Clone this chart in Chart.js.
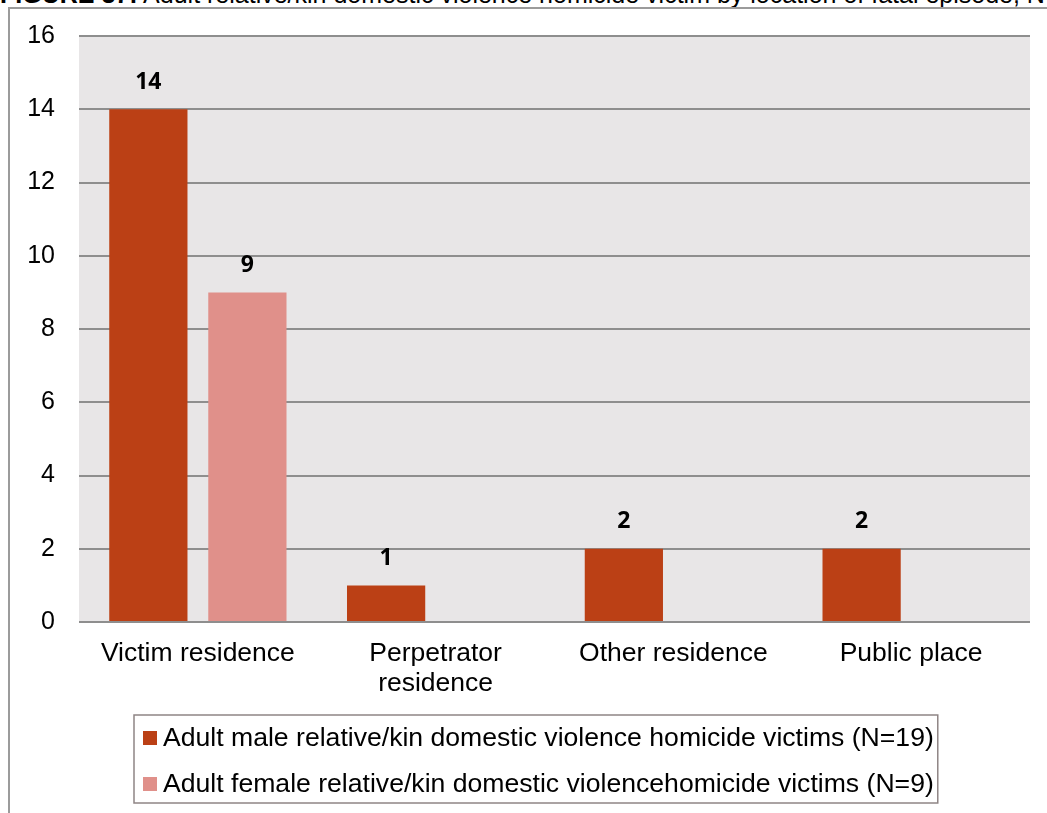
<!DOCTYPE html>
<html>
<head>
<meta charset="utf-8">
<script src="https://cdn.jsdelivr.net/npm/chart.js@4.4.1/dist/chart.umd.min.js"></script>
<style>
  html, body { margin: 0; padding: 0; background: #fff; }
  #wrap { position: relative; width: 1047px; height: 813px; overflow: hidden; }
  #title {
    position: absolute; left: 0px; top: -18px; white-space: nowrap;
    font: 25px "Liberation Sans", Arial, sans-serif; color: #000; line-height: 25px;
  }
  #frame {
    position: absolute; left: 8px; top: 7px; width: 1200px; height: 1000px;
    border-left: 2px solid #9b9b9b; border-top: 2px solid #9b9b9b;
  }
  #locChart { position: absolute; left: 0; top: 0; }
</style>
</head>
<body>
<div id="wrap">
  <div id="title"><b>FIGURE 37:</b> Adult relative/kin domestic violence homicide victim by location of fatal episode, NC</div>
  <div id="frame"></div>
  <canvas id="locChart" width="1047" height="813"></canvas>
</div>
<script>
// chart values
var locations = ["Victim residence", ["Perpetrator", "residence"], "Other residence", "Public place"];
var maleVictims = [14, 1, 2, 2];
var femaleVictims = [9, null, null, null];
var yTicks = [0, 2, 4, 6, 8, 10, 12, 14, 16];

var maleLabel = "Adult male relative/kin domestic violence homicide victims (N=19)";
var femaleLabel = "Adult female relative/kin domestic violencehomicide victims (N=9)";

var tickFont = { family: "'Liberation Sans', Arial, sans-serif", size: 25 };
var catFont = { family: "'Liberation Sans', Arial, sans-serif", size: 26.5, lineHeight: 1.13 };

// grey plot background
var plotBg = {
    id: "plotBg",
    beforeDraw: function (chart) {
        var a = chart.chartArea, c = chart.ctx;
        c.save();
        c.fillStyle = "#e8e6e7";
        c.fillRect(a.left, a.top, a.right - a.left, a.bottom - a.top);
        c.restore();
    }
};

// bold value labels over the bars
var valueLabels = {
    id: "valueLabels",
    afterDatasetsDraw: function (chart) {
        var c = chart.ctx;
        c.save();
        c.font = "bold 23px 'Open Sans', sans-serif";
        c.fillStyle = "#000";
        c.textAlign = "center";
        c.textBaseline = "middle";
        chart.data.datasets.forEach(function (ds, i) {
            chart.getDatasetMeta(i).data.forEach(function (bar, j) {
                var v = ds.data[j];
                if (v == null) return;
                c.fillText(String(v), bar.x, bar.y - 27);
            });
        });
        c.restore();
    }
};

// boxed legend, one row per series
var boxLegend = {
    id: "boxLegend",
    afterDraw: function (chart) {
        var c = chart.ctx;
        var left = 134, top = 715, rowH = 46;
        c.save();
        c.font = "26.6px 'Liberation Sans', Arial, sans-serif";
        c.textBaseline = "middle";
        c.textAlign = "left";
        var maxW = 0;
        chart.data.datasets.forEach(function (ds) {
            maxW = Math.max(maxW, c.measureText(ds.label).width);
        });
        var right = left + 29 + maxW + 4;
        c.strokeStyle = "#8f8585";
        c.lineWidth = 1.5;
        c.strokeRect(left, top, right - left, 88);
        chart.data.datasets.forEach(function (ds, i) {
            var cy = top + 23 + i * rowH;
            c.fillStyle = ds.backgroundColor;
            c.fillRect(left + 9, cy - 7, 14, 14);
            c.fillStyle = "#000";
            c.fillText(ds.label, left + 29, cy + 1);
        });
        c.restore();
    }
};

var ctx = document.getElementById("locChart").getContext("2d");
var locChart = new Chart(ctx, {
    type: "bar",
    data: {
        labels: locations,
        datasets: [
            {
                label: maleLabel,
                data: maleVictims,
                backgroundColor: "#bb4015",
                categoryPercentage: 0.833,
                barPercentage: 0.79
            },
            {
                label: femaleLabel,
                data: femaleVictims,
                backgroundColor: "#e0908a",
                categoryPercentage: 0.833,
                barPercentage: 0.79
            }
        ]
    },
    options: {
        responsive: false,
        animation: false,
        layout: { padding: { left: 10, right: 17, top: 36, bottom: 111 } },
        plugins: {
            legend: { display: false },
            tooltip: { enabled: false }
        },
        scales: {
            x: {
                grid: { display: false },
                border: { display: false },
                ticks: { color: "#000", font: catFont, padding: 9, maxRotation: 0 },
                afterFit: function (s) { s.height = 80; }
            },
            y: {
                min: 0,
                max: 16,
                afterBuildTicks: function (s) {
                    s.ticks = yTicks.map(function (v) { return { value: v }; });
                },
                grid: { color: "#8e8e8e", lineWidth: 2, drawTicks: false },
                border: { display: false },
                ticks: { color: "#000", font: tickFont, padding: 24 },
                afterFit: function (s) {
                    s.width = 69;
                    s.paddingTop = 0;
                    s.paddingBottom = 0;
                }
            }
        }
    },
    plugins: [plotBg, valueLabels, boxLegend]
});
</script>
</body>
</html>
